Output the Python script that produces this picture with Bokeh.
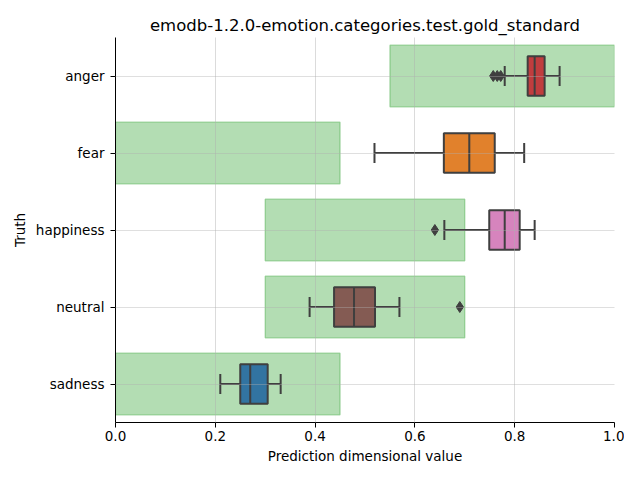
from bokeh.plotting import figure
from bokeh.models import ColumnDataSource, FactorRange
from bokeh.embed import file_html
from bokeh.resources import INLINE
from bokeh.transform import dodge

categories = ["anger", "fear", "happiness", "neutral", "sadness"]
range_low = [0.55, 0.0, 0.30, 0.30, 0.0]
range_high = [1.0, 0.45, 0.70, 0.70, 0.45]
whisker_low = [0.780, 0.519, 0.659, 0.389, 0.210]
q1 = [0.826, 0.658, 0.749, 0.438, 0.250]
median = [0.840, 0.709, 0.780, 0.478, 0.270]
q3 = [0.860, 0.760, 0.810, 0.520, 0.305]
whisker_high = [0.890, 0.819, 0.840, 0.569, 0.331]
box_colors = ["#c03d3e", "#e1812c", "#d684bd", "#845b53", "#3274a1"]
outlier_cat = ["anger", "anger", "anger", "happiness", "neutral"]
outlier_val = [0.757, 0.765, 0.772, 0.640, 0.690]

EDGE = "#3f3f3f"
FONT = "DejaVu Sans"

p = figure(frame_width=499, frame_height=385, output_backend="svg", toolbar_location=None,
           y_range=FactorRange(factors=categories[::-1], range_padding=0),
           x_range=(0, 1),
           min_border_left=115, min_border_right=10, min_border_top=37, min_border_bottom=42,
           title="emodb-1.2.0-emotion.categories.test.gold_standard")

src = ColumnDataSource(dict(cat=categories, lo=range_low, hi=range_high,
                            wl=whisker_low, q1=q1, med=median, q3=q3, wh=whisker_high,
                            col=box_colors))

# expected ranges
p.hbar(y="cat", left="lo", right="hi", height=0.8, source=src,
       fill_color="#2ca02c", fill_alpha=0.36, line_color="#2ca02c", line_alpha=0.4, line_width=1.2)

# whiskers
p.segment(x0="wl", y0="cat", x1="q1", y1="cat", source=src, line_color=EDGE, line_width=2)
p.segment(x0="q3", y0="cat", x1="wh", y1="cat", source=src, line_color=EDGE, line_width=2)
# caps
p.segment(x0="wl", y0=dodge("cat", -0.13, range=p.y_range), x1="wl", y1=dodge("cat", 0.13, range=p.y_range),
          source=src, line_color=EDGE, line_width=2)
p.segment(x0="wh", y0=dodge("cat", -0.13, range=p.y_range), x1="wh", y1=dodge("cat", 0.13, range=p.y_range),
          source=src, line_color=EDGE, line_width=2)
# boxes
p.hbar(y="cat", left="q1", right="q3", height=0.51, source=src,
       fill_color="col", line_color=EDGE, line_width=2)
# medians
p.segment(x0="med", y0=dodge("cat", -0.255, range=p.y_range), x1="med", y1=dodge("cat", 0.255, range=p.y_range),
          source=src, line_color=EDGE, line_width=2)
# outliers
p.scatter(x=outlier_val, y=outlier_cat, marker="diamond", size=11,
          fill_color=EDGE, line_color=EDGE)

# grid
for g in (p.xgrid, p.ygrid):
    g.grid_line_color = "#b0b0b0"
    g.grid_line_alpha = 0.45
    g.level = "overlay"
p.ygrid.grid_line_alpha = 0.4

p.xaxis.ticker = [0, 0.2, 0.4, 0.6, 0.8, 1.0]
p.xaxis.major_label_overrides = {0: "0.0", 0.2: "0.2", 0.4: "0.4", 0.6: "0.6", 0.8: "0.8", 1.0: "1.0"}
p.xaxis.minor_tick_line_color = None
p.xaxis.axis_label = "Prediction dimensional value"
p.yaxis.axis_label = "Truth"

for ax in (p.xaxis, p.yaxis):
    ax.axis_line_color = "black"
    ax.major_tick_line_color = "black"
    ax.major_tick_out = 5
    ax.major_tick_in = 0
    ax.major_label_text_font = FONT
    ax.major_label_text_font_size = "13.5px"
    ax.major_label_text_color = "black"
    ax.axis_label_text_font = FONT
    ax.axis_label_text_font_size = "13.5px"
    ax.axis_label_text_font_style = "normal"
    ax.axis_label_text_color = "black"
p.xaxis.major_label_standoff = 3
p.xaxis.axis_label_standoff = 4
p.yaxis.major_label_standoff = 6

p.title.text_font = FONT
p.title.text_font_size = "16.5px"
p.title.text_font_style = "normal"
p.title.text_color = "black"
p.title.align = "center"
p.title.standoff = 6
p.outline_line_color = None

open("out.html", "w").write(file_html(p, INLINE))
